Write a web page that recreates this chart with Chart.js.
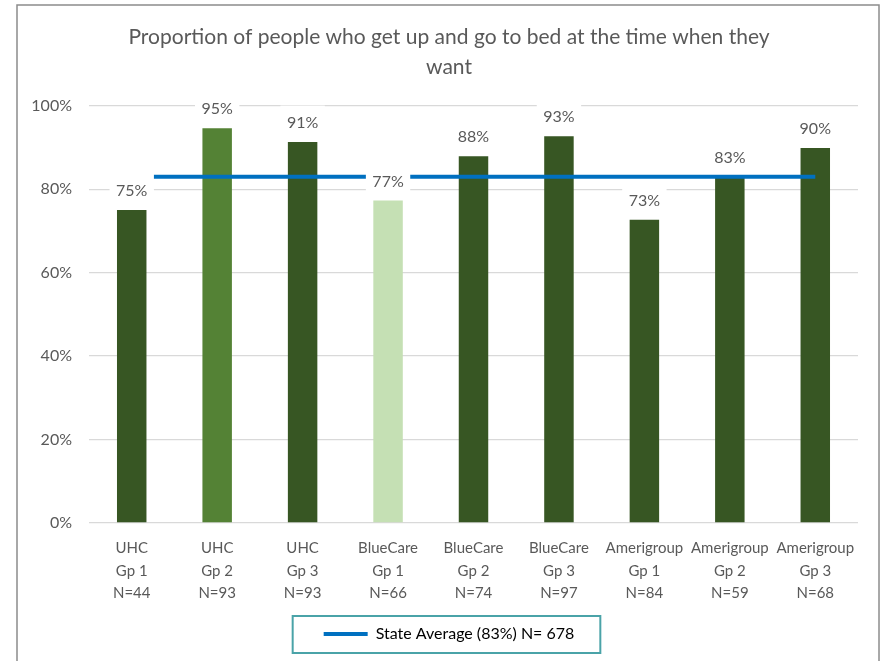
<!DOCTYPE html>
<html>
<head>
<meta charset="utf-8">
<script src="https://cdn.jsdelivr.net/npm/chart.js@4.4.1/dist/chart.umd.min.js"></script>
<style>
  html, body { margin: 0; padding: 0; background: #fff; }
</style>
</head>
<body>
<canvas id="chart" width="884" height="661"></canvas>
<script>
const plans = ["UHC", "UHC", "UHC", "BlueCare", "BlueCare", "BlueCare", "Amerigroup", "Amerigroup", "Amerigroup"];
const groupNames = ["Gp 1", "Gp 2", "Gp 3", "Gp 1", "Gp 2", "Gp 3", "Gp 1", "Gp 2", "Gp 3"];
const sampleSizes = ["N=44", "N=93", "N=93", "N=66", "N=74", "N=97", "N=84", "N=59", "N=68"];
const proportions = [75.0, 94.6, 91.3, 77.3, 87.9, 92.7, 72.7, 83.0, 89.9];
const stateAverage = [83, 83, 83, 83, 83, 83, 83, 83, 83];
const yTickStep = 20;

const DARK = "#375623";
const MID = "#548235";
const LIGHT = "#c5e0b4";
const barColors = [DARK, MID, DARK, LIGHT, DARK, DARK, DARK, DARK, DARK];
const TEXT = "#595959";
const FONT = "Lato, 'Liberation Sans', sans-serif";

// white page + grey outer frame
const frame = {
  id: "frame",
  beforeDraw(chart) {
    const ctx = chart.ctx;
    ctx.save();
    ctx.fillStyle = "#fff";
    ctx.fillRect(0, 0, chart.width, chart.height);
    ctx.strokeStyle = "#8c8c8c";
    ctx.lineWidth = 1.5;
    ctx.strokeRect(17, 5, 862, 700);
    ctx.restore();
  },
};

// title and legend sit a little right of the canvas centre
const nudge = {
  id: "nudge",
  afterLayout(chart) {
    for (const box of [chart.titleBlock, chart.legend]) {
      box.left += 5.5;
      box.right += 5.5;
    }
  },
};

// value labels with white boxes behind them
const barLabels = {
  id: "barLabels",
  afterDatasetsDraw(chart) {
    const ctx = chart.ctx;
    const meta = chart.getDatasetMeta(1);
    ctx.save();
    ctx.font = "16px " + FONT;
    ctx.textAlign = "center";
    ctx.textBaseline = "middle";
    meta.data.forEach((bar, i) => {
      const text = Math.round(proportions[i]) + "%";
      const w = ctx.measureText(text).width + 13;
      const y = bar.y - 20;
      ctx.fillStyle = "#fff";
      ctx.fillRect(bar.x - w / 2, y - 16.5, w, 32);
      ctx.fillStyle = TEXT;
      ctx.fillText(text, bar.x, y + 1);
    });
    ctx.restore();
  },
};

// teal box round the legend
const legendFrame = {
  id: "legendFrame",
  afterDraw(chart) {
    const hb = chart.legend.legendHitBoxes[0];
    if (!hb) return;
    const ctx = chart.ctx;
    const cy = hb.top + hb.height / 2;
    ctx.save();
    ctx.strokeStyle = "#4aa3a8";
    ctx.lineWidth = 2;
    ctx.strokeRect(hb.left - 31, cy - 18, hb.width + 57, 37);
    ctx.restore();
  },
};

new Chart(document.getElementById("chart"), {
  data: {
    labels: plans.map((p, i) => [p, groupNames[i], sampleSizes[i]]),
    datasets: [
      {
        type: "line",
        label: "State Average (83%) N= 678",
        data: stateAverage,
        borderColor: "#0070c0",
        backgroundColor: "#0070c0",
        borderWidth: 4,
        pointRadius: 0,
        fill: false,
        tension: 0,
        order: 1,
      },
      {
        type: "bar",
        label: "Proportion",
        data: proportions,
        backgroundColor: barColors,
        barPercentage: 0.345,
        categoryPercentage: 1,
        order: 2,
      },
    ],
  },
  options: {
    responsive: false,
    animation: false,
    devicePixelRatio: 1,
    layout: { padding: { left: 29, right: 26, top: 0, bottom: 9 } },
    plugins: {
      title: {
        display: true,
        text: ["Proportion of people who get up and go to bed at the time when they", "want"],
        color: TEXT,
        font: { family: FONT, size: 21, weight: "normal", lineHeight: 1.4 },
        padding: { top: 23, bottom: 24 },
      },
      legend: {
        position: "bottom",
        labels: {
          color: TEXT,
          font: { family: FONT, size: 16 },
          boxWidth: 44,
          boxHeight: 4,
          padding: 10,
          generateLabels: (chart) => [
            {
              text: chart.data.datasets[0].label,
              fillStyle: "#0070c0",
              strokeStyle: "#0070c0",
              lineWidth: 0,
              datasetIndex: 0,
              hidden: false,
            },
          ],
        },
      },
      tooltip: { enabled: false },
    },
    scales: {
      x: {
        grid: { display: false, drawTicks: false },
        border: { display: false },
        ticks: {
          color: TEXT,
          font: { family: FONT, size: 15, lineHeight: 1.5 },
          padding: 14,
          maxRotation: 0,
          autoSkip: false,
        },
        afterFit: (scale) => { scale.height = 93; },
      },
      y: {
        min: 0,
        max: 100,
        grid: { color: "#d9d9d9", lineWidth: 1.3, drawTicks: false },
        border: { display: false },
        ticks: {
          stepSize: yTickStep,
          color: TEXT,
          font: { family: FONT, size: 16 },
          padding: 17,
          callback: (v) => v + "%",
        },
        afterFit: (scale) => { scale.width = 60; },
      },
    },
  },
  plugins: [frame, nudge, barLabels, legendFrame],
});
</script>
</body>
</html>
